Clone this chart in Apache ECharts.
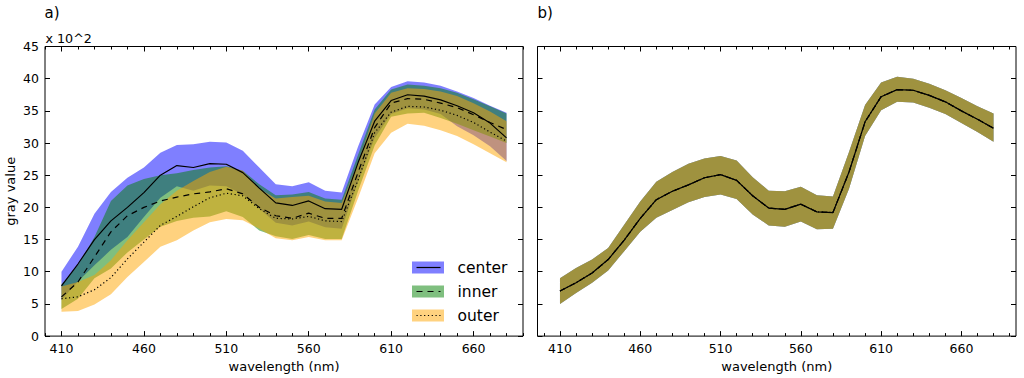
<!DOCTYPE html>
<html>
<head>
<meta charset="utf-8">
<script src="https://cdn.jsdelivr.net/npm/echarts@6/dist/echarts.min.js"></script>
<style>
html,body{margin:0;padding:0;background:#fff;}
#chart{width:1024px;height:378px;}
</style>
</head>
<body>
<div id="chart"></div>
<script>
// wavelengths (nm)
const waves = [410,420,430,440,450,460,470,480,490,500,510,520,530,540,550,560,570,580,590,600,610,620,630,640,650,660,670,680];

// panel a) values in units of 10^2 gray value
const centerMean = [7.8,11.2,15.0,17.9,20.0,22.3,25.0,26.5,26.2,26.8,26.7,25.4,23.0,20.7,20.3,21.0,19.8,19.7,27.0,33.4,36.6,37.5,37.3,36.7,35.8,34.7,33.1,30.8];
const centerHi   = [10.0,13.9,19.0,22.4,24.6,26.2,28.5,29.7,29.8,30.2,30.1,28.8,26.2,23.6,23.3,23.9,22.6,22.3,29.5,36.0,38.7,39.6,39.4,38.9,38.0,37.0,35.8,34.7];
const centerLo   = [5.6,8.5,11.0,13.4,15.4,18.5,21.5,23.3,22.6,23.4,23.3,22.0,19.8,17.6,17.2,17.8,16.9,16.7,24.0,30.8,34.5,35.4,35.2,34.5,32.6,31.2,29.5,27.2];

const innerMean = [6.1,8.4,12.3,16.2,18.7,20.0,21.0,21.6,22.1,22.4,22.9,22.1,20.0,18.7,18.3,19.1,18.3,18.3,25.5,32.4,36.2,36.9,36.8,36.2,35.5,34.4,33.2,32.1];
const innerHi   = [8.0,11.0,15.4,21.0,23.4,24.4,25.0,25.3,25.8,26.2,26.4,25.7,23.6,21.9,22.0,22.4,21.4,21.2,28.2,35.2,38.3,39.1,38.9,38.5,37.8,36.8,35.7,34.6];
const innerLo   = [4.2,5.8,9.0,10.5,13.0,15.0,17.0,17.9,18.4,18.6,19.4,18.5,16.4,15.5,15.1,15.7,15.1,15.1,22.6,29.6,34.1,34.6,34.7,33.9,33.0,32.0,31.0,30.0];

const outerMean = [5.8,6.1,7.2,9.1,12.0,14.6,17.2,18.6,20.1,21.5,22.2,21.8,19.8,18.3,18.2,18.6,17.9,17.8,24.3,31.6,34.8,35.7,35.6,35.1,34.3,33.2,31.7,30.3];
const outerHi   = [7.7,8.4,9.5,11.8,14.9,17.7,20.5,22.6,24.1,25.5,26.3,25.7,22.9,21.4,21.6,21.8,20.9,20.7,27.0,34.6,37.8,38.5,38.4,38.0,37.3,36.2,34.9,33.4];
const outerLo   = [3.8,3.9,4.9,6.5,9.2,11.5,13.9,14.9,16.4,17.7,18.2,18.0,16.7,15.2,14.9,15.4,14.9,14.9,21.5,28.4,31.6,33.0,32.7,32.0,31.1,29.8,28.4,27.0];

// panel b) values
const bMean = [7.0,8.3,9.8,11.9,14.9,18.3,21.2,22.5,23.5,24.6,25.1,24.2,21.8,19.9,19.7,20.5,19.3,19.2,25.5,33.3,37.2,38.3,38.2,37.4,36.4,35.0,33.7,32.3];
const bHi   = [9.0,10.6,11.9,13.7,17.3,20.9,24.0,25.5,26.8,27.6,28.0,27.3,24.7,22.6,22.5,23.2,21.9,21.7,28.6,35.9,39.4,40.3,40.0,39.2,38.2,37.0,35.7,34.6];
const bLo   = [5.0,6.7,8.3,10.2,13.2,16.2,18.4,19.6,20.8,21.6,22.0,21.3,18.9,17.2,17.0,17.8,16.6,16.7,22.9,31.1,35.1,36.4,36.3,35.5,34.5,33.1,31.7,30.2];

// tick labels
const xMajorTicks = [410,460,510,560,610,660];
const legendNames = ['center','inner','outer'];

const FONT = 'DejaVu Sans';
const xMinorTicks = [];
for (let v = 400; v <= 690; v += 10) xMinorTicks.push(v);

const chart = echarts.init(document.getElementById('chart'), null, {renderer:'svg'});

function xAxesFor(g, min, max) {
  const base = {gridIndex:g, type:'value', min:min, max:max, splitLine:{show:false}, axisLine:{show:false}};
  return [
    Object.assign({}, base, {position:'bottom',
      axisTick:{show:true, inside:true, length:5, customValues:xMajorTicks, lineStyle:{color:'#000', width:1}},
      axisLabel:{show:true, customValues:xMajorTicks, color:'#000', fontSize:12.5, fontFamily:FONT, margin:6},
      name:'wavelength (nm)', nameLocation:'middle', nameGap:21,
      nameTextStyle:{color:'#000', fontSize:13, fontFamily:FONT}}),
    Object.assign({}, base, {position:'bottom',
      axisTick:{show:true, inside:true, length:3, customValues:xMinorTicks, lineStyle:{color:'#000', width:1}},
      axisLabel:{show:false}}),
    Object.assign({}, base, {position:'top',
      axisTick:{show:true, inside:true, length:5, customValues:xMajorTicks, lineStyle:{color:'#000', width:1}},
      axisLabel:{show:false}}),
    Object.assign({}, base, {position:'top',
      axisTick:{show:true, inside:true, length:3, customValues:xMinorTicks, lineStyle:{color:'#000', width:1}},
      axisLabel:{show:false}})
  ];
}
function yAxesFor(g, labels) {
  const base = {gridIndex:g, type:'value', min:0, max:45, interval:5, splitLine:{show:false}, axisLine:{show:false},
    axisTick:{show:true, inside:true, length:5, lineStyle:{color:'#000', width:1}}};
  const left = Object.assign({}, base, {position:'left',
    axisLabel:{show:labels, color:'#000', fontSize:12.5, fontFamily:FONT, margin:6}});
  if (labels) {
    Object.assign(left, {name:'gray value', nameLocation:'middle', nameGap:28, nameRotate:90,
      nameTextStyle:{color:'#000', fontSize:13, fontFamily:FONT}});
  }
  const right = Object.assign({}, base, {position:'right', axisLabel:{show:false}});
  return [left, right];
}

function band(xi, yi, lo, hi, color) {
  return {
    type:'custom', xAxisIndex:xi, yAxisIndex:yi, silent:true, clip:true,
    data: waves.map((w,i) => [w, lo[i], hi[i]]),
    encode:{x:0, y:[1,2]},
    renderItem: function(params, api) {
      if (params.dataIndex !== 0) return null;
      const pts = [];
      for (let i = 0; i < waves.length; i++) pts.push(api.coord([waves[i], hi[i]]));
      for (let i = waves.length - 1; i >= 0; i--) pts.push(api.coord([waves[i], lo[i]]));
      return {type:'polygon', shape:{points:pts}, style:{fill:color, opacity:0.5, stroke:null}};
    }
  };
}
function line(xi, yi, vals, type) {
  return {
    type:'line', xAxisIndex:xi, yAxisIndex:yi, symbol:'none', silent:true,
    data: waves.map((w,i) => [w, vals[i]]),
    lineStyle:{color:'#000', width:1.2, type:type}, z:5
  };
}

const BLUE = '#0000ff', GREEN = '#008000', ORANGE = '#ffa500';
const DASH = [6,5], DOT = [1.2,2.6];

function legendItem(i, color, dash) {
  const y = 267.5 + i*24;
  return [
    {type:'rect', left:412, top:y-6, shape:{width:32, height:12}, style:{fill:color, opacity:0.5}, z:100},
    {type:'line', shape:{x1:416.5, y1:y, x2:440.5, y2:y}, style:{stroke:'#000', lineWidth:1.2, lineDash:dash}, z:101},
    {type:'text', x:457.5, y:y, style:{text:legendNames[i], fill:'#000', font:'15.5px "DejaVu Sans"', textVerticalAlign:'middle'}, z:101}
  ];
}

const option = {
  animation:false,
  backgroundColor:'#fff',
  textStyle:{fontFamily:FONT},
  grid:[
    {left:45, top:46.5, width:478, height:291.5, show:true, borderColor:'#000', borderWidth:1, backgroundColor:'rgba(0,0,0,0)', containLabel:false},
    {left:537.5, top:46.5, width:478.5, height:291.5, show:true, borderColor:'#000', borderWidth:1, backgroundColor:'rgba(0,0,0,0)', containLabel:false}
  ],
  xAxis: xAxesFor(0, 400, 690).concat(xAxesFor(1, 396, 694)),
  yAxis: yAxesFor(0, true).concat(yAxesFor(1, false)),
  series:[
    band(0,0,centerLo,centerHi,BLUE),
    band(0,0,innerLo,innerHi,GREEN),
    band(0,0,outerLo,outerHi,ORANGE),
    line(0,0,centerMean,'solid'),
    line(0,0,innerMean,DASH),
    line(0,0,outerMean,DOT),
    band(4,2,bLo,bHi,BLUE),
    band(4,2,bLo,bHi,GREEN),
    band(4,2,bLo,bHi,ORANGE),
    line(4,2,bMean,'solid'),
    line(4,2,bMean,DASH),
    line(4,2,bMean,DOT)
  ],
  graphic:[
    {type:'text', x:44.5, y:13, style:{text:'a)', fill:'#000', font:'15px "DejaVu Sans"', textVerticalAlign:'middle'}},
    {type:'text', x:537.5, y:13, style:{text:'b)', fill:'#000', font:'15px "DejaVu Sans"', textVerticalAlign:'middle'}},
    {type:'text', x:45.5, y:38.5, style:{text:'x 10^2', fill:'#000', font:'12.7px "DejaVu Sans"', textVerticalAlign:'middle'}}
  ].concat(legendItem(0,BLUE,null), legendItem(1,GREEN,DASH), legendItem(2,ORANGE,DOT))
};
chart.setOption(option);
</script>
</body>
</html>
